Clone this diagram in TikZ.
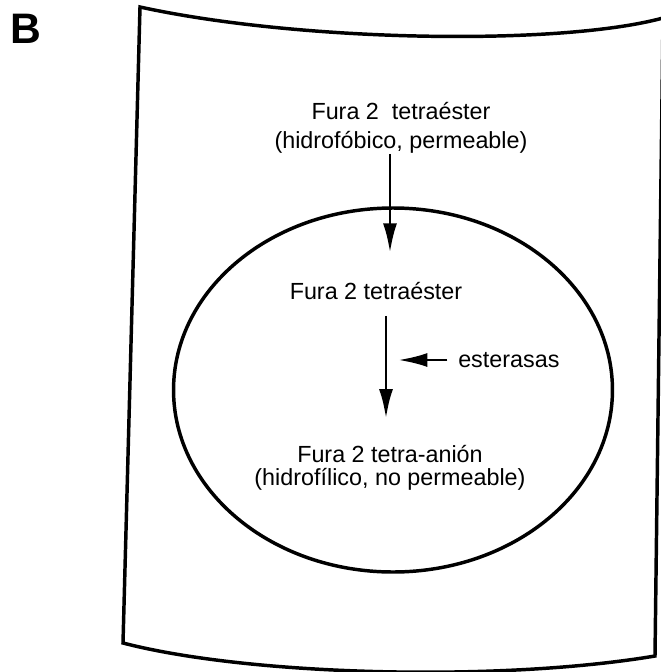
\documentclass[tikz,border=0pt]{standalone}
\usepackage{fontspec}
\setmainfont{Liberation Sans}
\usetikzlibrary{arrows.meta}

\tikzset{
  borde/.style={line width=2.6pt},
  flecha/.style={line width=2.2pt,-{Latex[length=22pt,width=10.5pt]}},
  texto/.style={inner sep=0pt,align=center,font=\fontsize{17.5}{22}\selectfont},
}

\begin{document}
\begin{tikzpicture}[x=0.75pt,y=-0.75pt]
\useasboundingbox (0,0) rectangle (661,672);

% letra del panel
\node[font=\fontsize{32}{32}\selectfont\bfseries] (letra) at (26,29) {B};

% medio extracelular
\draw[borde] (140,7) .. controls (300,42) and (560,46) .. (663,18)
  -- (655,656) .. controls (500,682) and (250,676) .. (123,643) -- cycle;

% celula
\draw[borde] (393,390) ellipse [x radius=164.6pt, y radius=136.5pt];

% textos
\node[texto] (ext) at (401,128) {Fura 2\ \ tetraéster\\(hidrofóbico, permeable)};
\node[texto] (int) at (376,291) {Fura 2 tetraéster};
\node[texto,font=\fontsize{17.5}{17.5}\selectfont] (anion) at (390,468) {Fura 2 tetra-anión\\(hidrofílico, no permeable)};
\node[texto,anchor=west] (est) at (458,360) {esterasas};

\coordinate (eje1) at (390,0);
\coordinate (eje2) at (386,0);

% flechas
\draw[flecha,shorten >=22pt] (ext.south -| eje1) -- (int.north -| eje1);
\draw[flecha,shorten <=12pt,shorten >=20pt] (int.south -| eje2) -- (anion.north -| eje2);
\draw[flecha,shorten <=8pt,shorten >=9pt] (est.west) -- (est.west -| eje2);

\end{tikzpicture}
\end{document}
